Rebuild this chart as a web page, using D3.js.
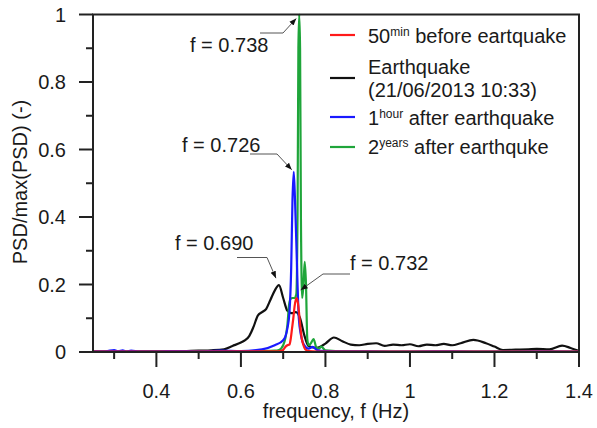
<!DOCTYPE html>
<html><head><meta charset="utf-8">
<script src="https://cdn.jsdelivr.net/npm/d3@7"></script>
<style>body{margin:0;background:#fff}svg{display:block}text{font-family:"Liberation Sans",Arial,sans-serif;fill:#1a1a1a}</style>
</head><body>
<svg id="c" width="597" height="428"></svg>
<script>
// ---- data ----
const quakeF = [0.25,0.30,0.35,0.40,0.45,0.50,0.53,0.56,0.58,0.60,0.61,0.62,0.63,0.64,0.65,0.66,0.67,0.68,0.69,0.70,0.71,0.72,0.73,0.74,0.75,0.76,0.78,0.80,0.82,0.84,0.86,0.88,0.90,0.92,0.94,0.96,0.98,1.00,1.02,1.04,1.06,1.08,1.10,1.12,1.15,1.18,1.20,1.22,1.25,1.28,1.30,1.33,1.36,1.38,1.40];
const quakeV = [0.001,0.002,0.001,0.002,0.002,0.004,0.005,0.008,0.018,0.028,0.035,0.048,0.075,0.108,0.118,0.128,0.155,0.182,0.198,0.160,0.122,0.115,0.118,0.100,0.050,0.018,0.012,0.025,0.043,0.032,0.022,0.020,0.024,0.026,0.018,0.022,0.020,0.023,0.017,0.022,0.020,0.024,0.020,0.026,0.036,0.026,0.016,0.006,0.007,0.008,0.009,0.008,0.019,0.012,0.003];

const hourF = [0.25,0.28,0.30,0.31,0.32,0.33,0.34,0.36,0.40,0.45,0.50,0.55,0.60,0.65,0.68,0.70,0.705,0.71,0.715,0.719,0.722,0.725,0.728,0.731,0.734,0.737,0.742,0.746,0.75,0.76,0.77,0.78,0.80,0.85,0.90,1.00,1.10,1.20,1.30,1.40];
const hourV = [0.002,0.002,0.006,0.002,0.005,0.001,0.004,0.002,0.002,0.003,0.002,0.004,0.003,0.008,0.020,0.035,0.045,0.070,0.120,0.250,0.450,0.534,0.450,0.330,0.200,0.100,0.050,0.030,0.020,0.010,0.015,0.006,0.003,0.002,0.002,0.001,0.002,0.001,0.002,0.001];

const yearsF = [0.25,0.40,0.55,0.65,0.68,0.69,0.70,0.705,0.71,0.714,0.718,0.722,0.727,0.731,0.734,0.736,0.738,0.740,0.742,0.745,0.748,0.751,0.754,0.757,0.760,0.765,0.772,0.778,0.785,0.790,0.80,0.85,1.00,1.20,1.40];
const yearsV = [0.001,0.002,0.002,0.003,0.004,0.006,0.020,0.040,0.080,0.140,0.158,0.160,0.160,0.170,0.400,0.900,1.000,0.900,0.400,0.160,0.200,0.267,0.200,0.040,0.020,0.025,0.038,0.015,0.010,0.016,0.005,0.002,0.001,0.001,0.001];

const beforeF = [0.25,0.50,0.69,0.70,0.705,0.71,0.715,0.718,0.721,0.724,0.727,0.730,0.732,0.735,0.738,0.741,0.744,0.748,0.752,0.76,0.80,1.40];
const beforeV = [0.001,0.001,0.002,0.006,0.015,0.020,0.022,0.040,0.070,0.100,0.135,0.155,0.160,0.145,0.110,0.070,0.040,0.020,0.008,0.003,0.001,0.001];

const xMajor = [0.4,0.6,0.8,1.0,1.2,1.4];
const xMinor = [0.3,0.5,0.7,0.9,1.1,1.3];
const xLabels = ["0.4","0.6","0.8","1","1.2","1.4"];
const yMajor = [0,0.2,0.4,0.6,0.8,1];
const yMinor = [0.1,0.3,0.5,0.7,0.9];
const yLabels = ["0","0.2","0.4","0.6","0.8","1"];

const seriesNames = ["before","quake","hour","years"];
const seriesColors = {before:"#ff1a1a", quake:"#111111", hour:"#1a1aff", years:"#1fa53a"};

const annotations = [
  {label:"f = 0.738", f:0.738, v:1.0},
  {label:"f = 0.726", f:0.725, v:0.534},
  {label:"f = 0.690", f:0.690, v:0.198},
  {label:"f = 0.732", f:0.732, v:0.160}
];

// ---- drawing ----
const svg = d3.select("#c");
const L=93, R=579, T=14.5, B=352;
const x = d3.scaleLinear().domain([0.25,1.4]).range([L,R]);
const y = d3.scaleLinear().domain([0,1]).range([B,T]);
const FS = 20;

svg.append("defs").append("clipPath").attr("id","clip")
  .append("rect").attr("x",L).attr("y",T-2).attr("width",R-L).attr("height",B-T+2);
const defs = svg.select("defs");
defs.append("marker").attr("id","arr").attr("viewBox","0 0 10 10").attr("refX",10).attr("refY",5)
  .attr("markerWidth",7).attr("markerHeight",7).attr("orient","auto")
  .append("path").attr("d","M0,1 L10,5 L0,9 Z").attr("fill","#111");

// curves
const zip = (f,v)=>f.map((d,i)=>[d,v[i]]);
const data = {quake:zip(quakeF,quakeV), years:zip(yearsF,yearsV), hour:zip(hourF,hourV), before:zip(beforeF,beforeV)};
const line = d3.line().x(d=>x(d[0])).y(d=>y(d[1])).curve(d3.curveMonotoneX);
const g = svg.append("g").attr("clip-path","url(#clip)");
["quake","years","hour","before"].forEach(k=>{
  g.append("path").datum(data[k]).attr("d",line).attr("fill","none")
    .attr("stroke",seriesColors[k]).attr("stroke-width",2.2).attr("stroke-linejoin","round");
});

// frame / axes
const ax = svg.append("g").attr("stroke","#222").attr("stroke-width",2).attr("fill","none");
ax.append("path").attr("d",`M${L},${B}V${T}H${R}V${B}H${L}`);
xMajor.forEach(v=>ax.append("line").attr("x1",x(v)).attr("x2",x(v)).attr("y1",B).attr("y2",B+15));
xMinor.forEach(v=>ax.append("line").attr("x1",x(v)).attr("x2",x(v)).attr("y1",B).attr("y2",B+7));
yMajor.forEach(v=>ax.append("line").attr("y1",y(v)).attr("y2",y(v)).attr("x1",L).attr("x2",L-14));
yMinor.forEach(v=>ax.append("line").attr("y1",y(v)).attr("y2",y(v)).attr("x1",L).attr("x2",L-7));

xMajor.forEach((v,i)=>svg.append("text").attr("x",x(v)).attr("y",398).attr("text-anchor","middle")
  .attr("font-size",FS).text(xLabels[i]));
yMajor.forEach((v,i)=>svg.append("text").attr("x",66).attr("y",y(v)+7).attr("text-anchor","end")
  .attr("font-size",FS).text(yLabels[i]));

svg.append("text").attr("x",336).attr("y",418).attr("text-anchor","middle").attr("font-size",FS)
  .text("frequency, f (Hz)");
svg.append("text").attr("transform","translate(27,182) rotate(-90)").attr("text-anchor","middle")
  .attr("font-size",FS).text("PSD/max(PSD) (-)");

// annotations
const annLayout = [
  {tx:190, ty:52, pts:(px,py)=>[[260,33],[283,33],[px-3,py+4]]},
  {tx:182, ty:152, pts:(px,py)=>[[250,154],[277,154],[px-2,py-2]]},
  {tx:175, ty:250, pts:(px,py)=>[[237,257.5],[267,257.5],[px-3,py-7]]},
  {tx:350, ty:270, pts:(px,py)=>[[350,274],[323,274],[px+4,py-8]]}
];
annotations.forEach((a,i)=>{
  const lay = annLayout[i];
  svg.append("text").attr("x",lay.tx).attr("y",lay.ty).attr("font-size",FS).text(a.label);
  const p = lay.pts(x(a.f), y(a.v));
  svg.append("path").attr("d",d3.line()(p)).attr("fill","none").attr("stroke","#555")
    .attr("stroke-width",1).attr("marker-end","url(#arr)");
});

// legend
const leg = svg.append("g");
const legRows = [
  {k:"before", ly:35, lines:[{y:43, parts:[["50",0],["min",1],[" before eartquake",0]]}]},
  {k:"quake", ly:78, lines:[{y:74, parts:[["Earthquake",0]]},{y:97, parts:[["(21/06/2013 10:33)",0]]}]},
  {k:"hour", ly:117, lines:[{y:125, parts:[["1",0],["hour",1],[" after earthquake",0]]}]},
  {k:"years", ly:147, lines:[{y:154, parts:[["2",0],["years",1],[" after earthquke",0]]}]}
];
legRows.forEach(r=>{
  leg.append("line").attr("x1",330).attr("x2",355).attr("y1",r.ly).attr("y2",r.ly)
    .attr("stroke",seriesColors[r.k]).attr("stroke-width",2.2);
  r.lines.forEach(l=>{
    const t = leg.append("text").attr("x",368).attr("y",l.y).attr("font-size",FS);
    let sup=false;
    l.parts.forEach(p=>{
      const ts = t.append("tspan").text(p[0]);
      if(p[1]){ ts.attr("font-size",12).attr("dy",-7); sup=true; }
      else if(sup){ ts.attr("dy",7); sup=false; }
    });
  });
});
</script>
</body></html>
